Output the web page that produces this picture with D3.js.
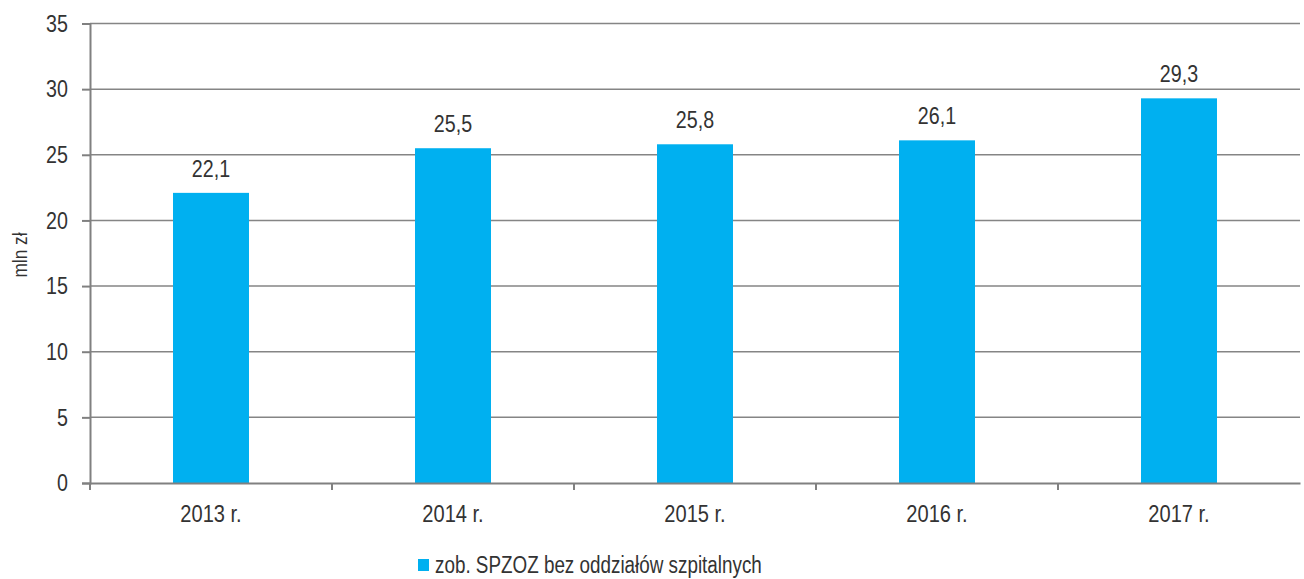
<!DOCTYPE html>
<html>
<head>
<meta charset="utf-8">
<script src="https://cdn.jsdelivr.net/npm/d3@7"></script>
<style>
  body { margin: 0; background: #fff; }
  svg text { font-family: "Liberation Sans", Arial, sans-serif; fill: #333; }
</style>
</head>
<body>
<svg id="chart"></svg>
<script>
// data
const years = ["2013 r.", "2014 r.", "2015 r.", "2016 r.", "2017 r."];
const values = [22.1, 25.5, 25.8, 26.1, 29.3];
const yTicks = [0, 5, 10, 15, 20, 25, 30, 35];
const seriesName = "zob. SPZOZ bez oddziałów szpitalnych";
const yTitle = "mln zł";

// layout
const width = 1304;
const height = 579;
const margin = {top: 23.5, right: 4, bottom: 96, left: 90};
const innerW = width - margin.left - margin.right;
const innerH = height - margin.top - margin.bottom;
const narrowK = 0.82; // squeeze Liberation Sans to look like Arial Narrow

// horizontally squeeze a text selection, keeping its anchor point in place
function narrow(sel, extra) {
  sel.each(function() {
    const t = d3.select(this);
    const x = +t.attr('x') || 0;
    t.attr('x', x / narrowK)
        .attr('transform', (extra || '') + ' scale(' + narrowK + ',1)');
  });
}

const svg = d3.select('#chart')
    .attr('width', width)
    .attr('height', height);

const g = svg.append('g')
    .attr('transform', 'translate(' + margin.left + ',' + margin.top + ')');

const x = d3.scaleBand()
    .domain(years)
    .range([0, innerW])
    .padding(0);

const y = d3.scaleLinear()
    .domain([0, 35])
    .range([innerH, 0]);

const barW = x.bandwidth() * 0.314;

// gridlines
g.append('g')
    .selectAll('line')
    .data(yTicks.filter(d => d > 0))
    .enter()
    .append('line')
    .attr('x1', 0)
    .attr('x2', innerW)
    .attr('y1', d => y(d))
    .attr('y2', d => y(d))
    .attr('stroke', '#858585')
    .attr('stroke-width', 1.5);

// bars
g.selectAll('.bar')
    .data(values)
    .enter()
    .append('rect')
    .attr('x', (d, i) => x(years[i]) + (x.bandwidth() - barW) / 2)
    .attr('y', d => y(d))
    .attr('width', barW)
    .attr('height', d => innerH - y(d))
    .attr('fill', '#00B0F0');

// value labels
g.selectAll('.val')
    .data(values)
    .enter()
    .append('text')
    .attr('x', (d, i) => x(years[i]) + x.bandwidth() / 2)
    .attr('y', d => y(d) - 16)
    .attr('text-anchor', 'middle')
    .attr('font-size', 24)
    .text(d => d3.format('.1f')(d).replace('.', ','))
    .call(narrow);

// y axis
const yAxis = g.append('g')
    .call(d3.axisLeft(y).tickValues(yTicks).tickSize(8).tickPadding(14));
yAxis.select('.domain').attr('stroke', '#808080').attr('stroke-width', 2);
yAxis.selectAll('.tick line').attr('stroke', '#808080').attr('stroke-width', 2);
yAxis.selectAll('.tick text')
    .attr('font-size', 24)
    .attr('fill', '#333')
    .call(narrow);

// x axis
const xAxis = g.append('g')
    .attr('transform', 'translate(0,' + innerH + ')')
    .call(d3.axisBottom(x).tickSize(0).tickPadding(22));
xAxis.select('.domain').attr('stroke', '#808080').attr('stroke-width', 2);
xAxis.selectAll('.tick text')
    .attr('font-size', 24.5)
    .attr('fill', '#333')
    .call(narrow);

// category separators on x axis
xAxis.selectAll('.sep')
    .data(years)
    .enter()
    .append('line')
    .attr('x1', d => x(d))
    .attr('x2', d => x(d))
    .attr('y1', 0)
    .attr('y2', 7)
    .attr('stroke', '#808080')
    .attr('stroke-width', 2);

// y title
svg.append('text')
    .attr('text-anchor', 'middle')
    .attr('font-size', 21)
    .text(yTitle)
    .call(narrow, 'translate(27,255) rotate(-90)');

// legend
const legend = svg.append('g')
    .attr('transform', 'translate(418,559)');
legend.append('rect')
    .attr('width', 11)
    .attr('height', 12)
    .attr('fill', '#00B0F0');
legend.append('text')
    .attr('x', 17)
    .attr('y', 13.5)
    .attr('font-size', 23)
    .text(seriesName)
    .call(narrow);
</script>
</body>
</html>
